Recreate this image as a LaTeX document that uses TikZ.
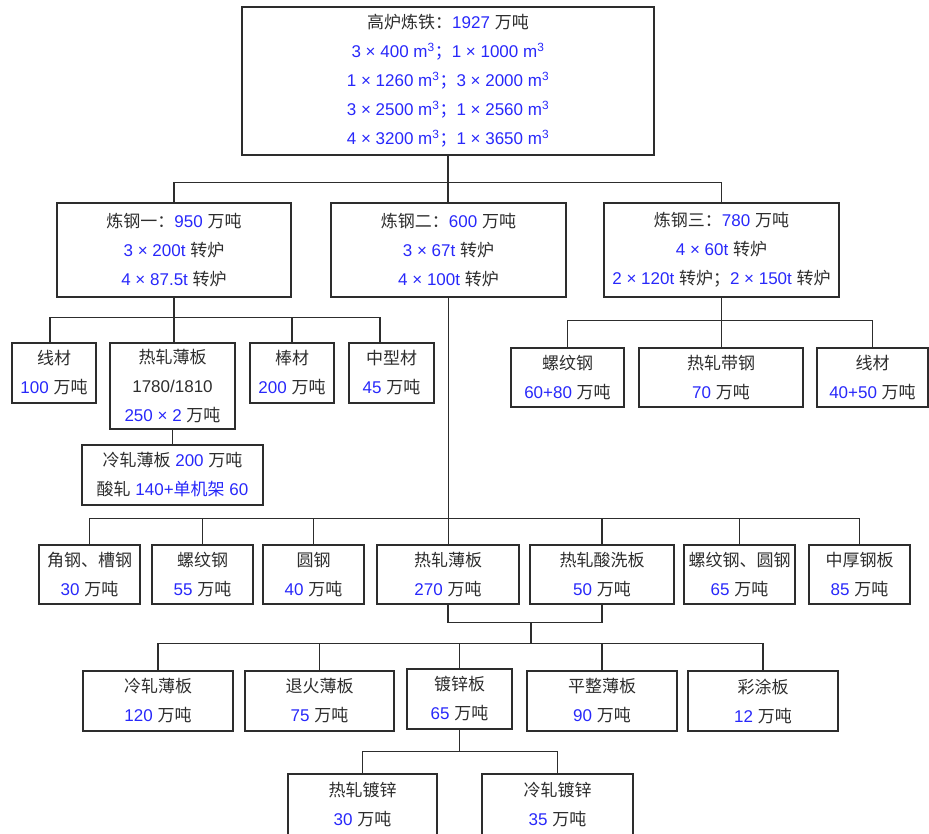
\documentclass[tikz,border=0pt]{standalone}
\usepackage{fontspec}
\setmainfont{Liberation Sans}
\newfontfamily\cjkf{Noto Sans CJK SC}
\usetikzlibrary{calc}
\definecolor{numblue}{RGB}{40,40,250}
\definecolor{zhgray}{RGB}{45,45,45}
\definecolor{linegray}{RGB}{45,45,45}
\newcommand{\zh}[1]{{\cjkf\color{zhgray}#1}}
\newcommand{\bn}[1]{{\color{numblue}#1}}
\newcommand{\mcube}{m\textsuperscript{3}}
\begin{document}
\begin{tikzpicture}[x=1pt,y=-1pt,
  box/.style={draw=linegray, line width=1.2pt, rectangle, inner sep=0pt, align=center,
    font=\fontsize{17}{29}\selectfont, text=zhgray},
  conn/.style={draw=linegray, line width=1.2pt}]
\useasboundingbox (0,0) rectangle (929,833);

% top
\node[box, minimum width=412, minimum height=148] (top) at (448,81)
 {\zh{高炉炼铁：}\bn{1927} \zh{万吨}\\
  \bn{3 × 400 \mcube\zh{\color{numblue}；}1 × 1000 \mcube}\\
  \bn{1 × 1260 \mcube\zh{\color{numblue}；}3 × 2000 \mcube}\\
  \bn{3 × 2500 \mcube\zh{\color{numblue}；}1 × 2560 \mcube}\\
  \bn{4 × 3200 \mcube\zh{\color{numblue}；}1 × 3650 \mcube}};

% row 2
\node[box, minimum width=234, minimum height=94] (g1) at (174,250)
 {\zh{炼钢一：}\bn{950} \zh{万吨}\\ \bn{3 × 200t} \zh{转炉}\\ \bn{4 × 87.5t} \zh{转炉}};
\node[box, minimum width=235, minimum height=94] (g2) at (448.5,250)
 {\zh{炼钢二：}\bn{600} \zh{万吨}\\ \bn{3 × 67t} \zh{转炉}\\ \bn{4 × 100t} \zh{转炉}};
\node[box, minimum width=235, minimum height=94] (g3) at (721.5,250)
 {\zh{炼钢三：}\bn{780} \zh{万吨}\\ \bn{4 × 60t} \zh{转炉}\\ \bn{2 × 120t} \zh{转炉；}\bn{2 × 150t} \zh{转炉}};

% row 3 left
\node[box, minimum width=84, minimum height=60] (a1) at (54,373) {\zh{线材}\\ \bn{100} \zh{万吨}};
\node[box, minimum width=125, minimum height=86] (a2) at (172.5,386) {\zh{热轧薄板}\\ 1780/1810\\ \bn{250 × 2} \zh{万吨}};
\node[box, minimum width=84, minimum height=60] (a3) at (292,373) {\zh{棒材}\\ \bn{200} \zh{万吨}};
\node[box, minimum width=85, minimum height=60] (a4) at (391.5,373) {\zh{中型材}\\ \bn{45} \zh{万吨}};
\node[box, minimum width=181, minimum height=60] (a5) at (172.5,475) {\zh{冷轧薄板} \bn{200} \zh{万吨}\\ \zh{酸轧} \bn{140+}\zh{\color{numblue}单机架} \bn{60}};

% row 3 right
\node[box, minimum width=113, minimum height=59] (b1) at (567.5,377.5) {\zh{螺纹钢}\\ \bn{60+80} \zh{万吨}};
\node[box, minimum width=164, minimum height=59] (b2) at (721,377.5) {\zh{热轧带钢}\\ \bn{70} \zh{万吨}};
\node[box, minimum width=111, minimum height=59] (b3) at (872.5,377.5) {\zh{线材}\\ \bn{40+50} \zh{万吨}};

% row 4
\node[box, minimum width=101, minimum height=59] (c1) at (89.5,574.5) {\zh{角钢、槽钢}\\ \bn{30} \zh{万吨}};
\node[box, minimum width=101, minimum height=59] (c2) at (202.5,574.5) {\zh{螺纹钢}\\ \bn{55} \zh{万吨}};
\node[box, minimum width=101, minimum height=59] (c3) at (313.5,574.5) {\zh{圆钢}\\ \bn{40} \zh{万吨}};
\node[box, minimum width=142, minimum height=59] (c4) at (448,574.5) {\zh{热轧薄板}\\ \bn{270} \zh{万吨}};
\node[box, minimum width=144, minimum height=59] (c5) at (602,574.5) {\zh{热轧酸洗板}\\ \bn{50} \zh{万吨}};
\node[box, minimum width=111, minimum height=59] (c6) at (739.5,574.5) {\zh{螺纹钢、圆钢}\\ \bn{65} \zh{万吨}};
\node[box, minimum width=101, minimum height=59] (c7) at (859.5,574.5) {\zh{中厚钢板}\\ \bn{85} \zh{万吨}};

% row 5
\node[box, minimum width=150, minimum height=60] (d1) at (158,701) {\zh{冷轧薄板}\\ \bn{120} \zh{万吨}};
\node[box, minimum width=149, minimum height=60] (d2) at (319.5,701) {\zh{退火薄板}\\ \bn{75} \zh{万吨}};
\node[box, minimum width=105, minimum height=60] (d3) at (459.5,699) {\zh{镀锌板}\\ \bn{65} \zh{万吨}};
\node[box, minimum width=150, minimum height=60] (d4) at (602,701) {\zh{平整薄板}\\ \bn{90} \zh{万吨}};
\node[box, minimum width=150, minimum height=60] (d5) at (763,701) {\zh{彩涂板}\\ \bn{12} \zh{万吨}};

% row 6
\node[box, minimum width=149, minimum height=62] (e1) at (362.5,805) {\zh{热轧镀锌}\\ \bn{30} \zh{万吨}};
\node[box, minimum width=151, minimum height=62] (e2) at (557.5,805) {\zh{冷轧镀锌}\\ \bn{35} \zh{万吨}};

% connectors
\draw[conn] (top.south) -- ++(0,27) -| (g1.north);
\draw[conn] (top.south) -- ++(0,27) -| (g3.north);
\draw[conn] (top.south) -- (top.south |- g2.north);

\draw[conn] (g1.south) -- ++(0,20) -| ([xshift=-4]a1.north);
\draw[conn] (g1.south) -- (g1.south |- a2.north);
\draw[conn] (g1.south) -- ++(0,20) -| (a3.north);
\draw[conn] (g1.south) -- ++(0,20) -| ([xshift=-11.5]a4.north);
\draw[conn] (a2.south) -- (a5.north);

\draw[conn] (g3.south) -- ++(0,23) -| (b1.north);
\draw[conn] (g3.south) -- (g3.south |- b2.north);
\draw[conn] (g3.south) -- ++(0,23) -| (b3.north);

\draw[conn] (g2.south) -- ++(0,221) -| (c1.north);
\draw[conn] (g2.south) -- ++(0,221) -| (c2.north);
\draw[conn] (g2.south) -- ++(0,221) -| (c3.north);
\draw[conn] (g2.south) -- (g2.south |- c4.north);
\draw[conn] (g2.south) -- ++(0,221) -| (c5.north);
\draw[conn] (g2.south) -- ++(0,221) -| (c6.north);
\draw[conn] (g2.south) -- ++(0,221) -| (c7.north);

\coordinate (j1) at ($(c4.south)+(0,18)$);
\coordinate (j2) at ($(j1)+(83,0)$);
\draw[conn] (c4.south) -- (j1) -- (j1 -| c5.south) -- (c5.south);
\draw[conn] (j2) -- ++(0,21) -| (d1.north);
\draw[conn] (j2) -- ++(0,21) -| (d2.north);
\draw[conn] (j2) -- ++(0,21) -| (d3.north);
\draw[conn] (j2) -- ++(0,21) -| (d4.north);
\draw[conn] (j2) -- ++(0,21) -| (d5.north);

\draw[conn] (d3.south) -- ++(0,22) -| (e1.north);
\draw[conn] (d3.south) -- ++(0,22) -| (e2.north);
\end{tikzpicture}
\end{document}
